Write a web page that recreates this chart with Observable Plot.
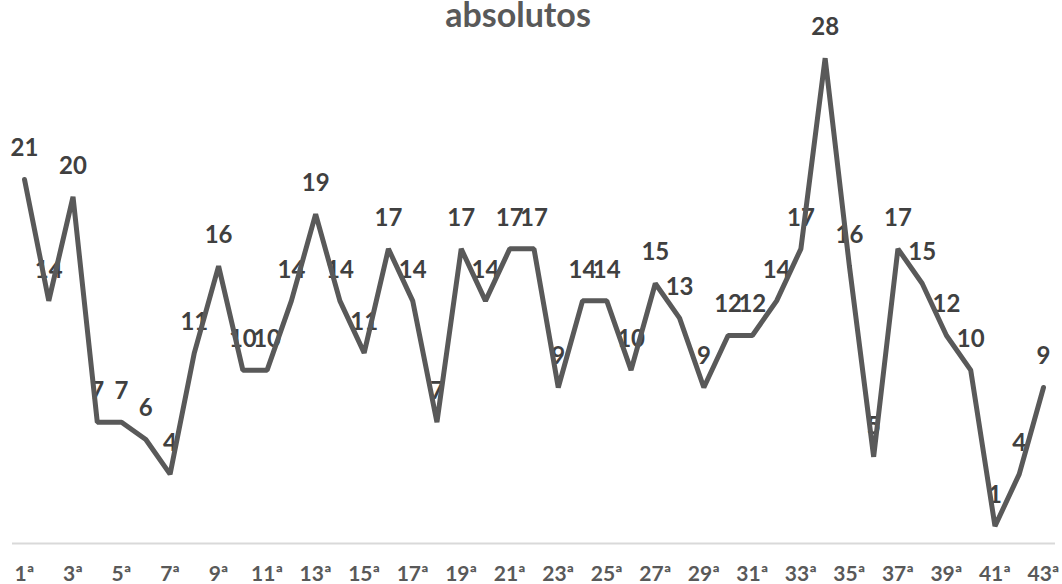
<!DOCTYPE html>
<html>
<head>
<meta charset="utf-8">
<script src="https://cdn.jsdelivr.net/npm/d3@7"></script>
<script src="https://cdn.jsdelivr.net/npm/@observablehq/plot@0.6"></script>
<style>
  html, body { margin: 0; padding: 0; background: #fff; }
  #wrap { position: relative; width: 1062px; height: 584px; overflow: hidden; }
  #title { position: absolute; top: 0; left: 518px; transform: translateX(-50%); line-height: 0.8;
    font-family: Lato, "Open Sans", sans-serif; font-weight: bold; font-size: 34px; color: #595959; white-space: nowrap; }
</style>
</head>
<body>
<div id="wrap"><div id="title">absolutos</div></div>
<script>
const categories = ["1ª","2ª","3ª","4ª","5ª","6ª","7ª","8ª","9ª","10ª","11ª","12ª","13ª","14ª","15ª","16ª","17ª","18ª","19ª","20ª","21ª","22ª","23ª","24ª","25ª","26ª","27ª","28ª","29ª","30ª","31ª","32ª","33ª","34ª","35ª","36ª","37ª","38ª","39ª","40ª","41ª","42ª","43ª"];
const values = [21,14,20,7,7,6,4,11,16,10,10,14,19,14,11,17,14,7,17,14,17,17,9,14,14,10,15,13,9,12,12,14,17,28,16,5,17,15,12,10,1,4,9];
const tickLabels = ["1ª","3ª","5ª","7ª","9ª","11ª","13ª","15ª","17ª","19ª","21ª","23ª","25ª","27ª","29ª","31ª","33ª","35ª","37ª","39ª","41ª","43ª"];

const data = categories.map((c, i) => ({cat: c, value: values[i]}));

const chart = Plot.plot({
  width: 1062,
  height: 584,
  marginLeft: 24,
  marginRight: 19,
  marginTop: 23,
  marginBottom: 41,
  style: {fontFamily: "Lato, 'Open Sans', sans-serif", background: "transparent"},
  x: {type: "point", domain: categories, padding: 0, round: false},
  y: {domain: [0, 30], axis: null},
  marks: [
    Plot.ruleY([0], {stroke: "#d9d9d9", strokeWidth: 2, insetLeft: -12, insetRight: -12}),
    Plot.axisX({ticks: tickLabels, tickSize: 0, tickPadding: 23, fontSize: 21, fontWeight: "bold", fill: "#595959", label: null}),
    Plot.text(data, {x: "cat", y: "value", text: d => String(d.value), dy: -31, fontSize: 24, fontWeight: "bold", fill: "#404040"}),
    Plot.line(data, {x: "cat", y: "value", stroke: "#595959", strokeWidth: 5, strokeLinejoin: "miter", strokeLinecap: "round"})
  ]
});
document.getElementById("wrap").prepend(chart);
</script>
</body>
</html>
